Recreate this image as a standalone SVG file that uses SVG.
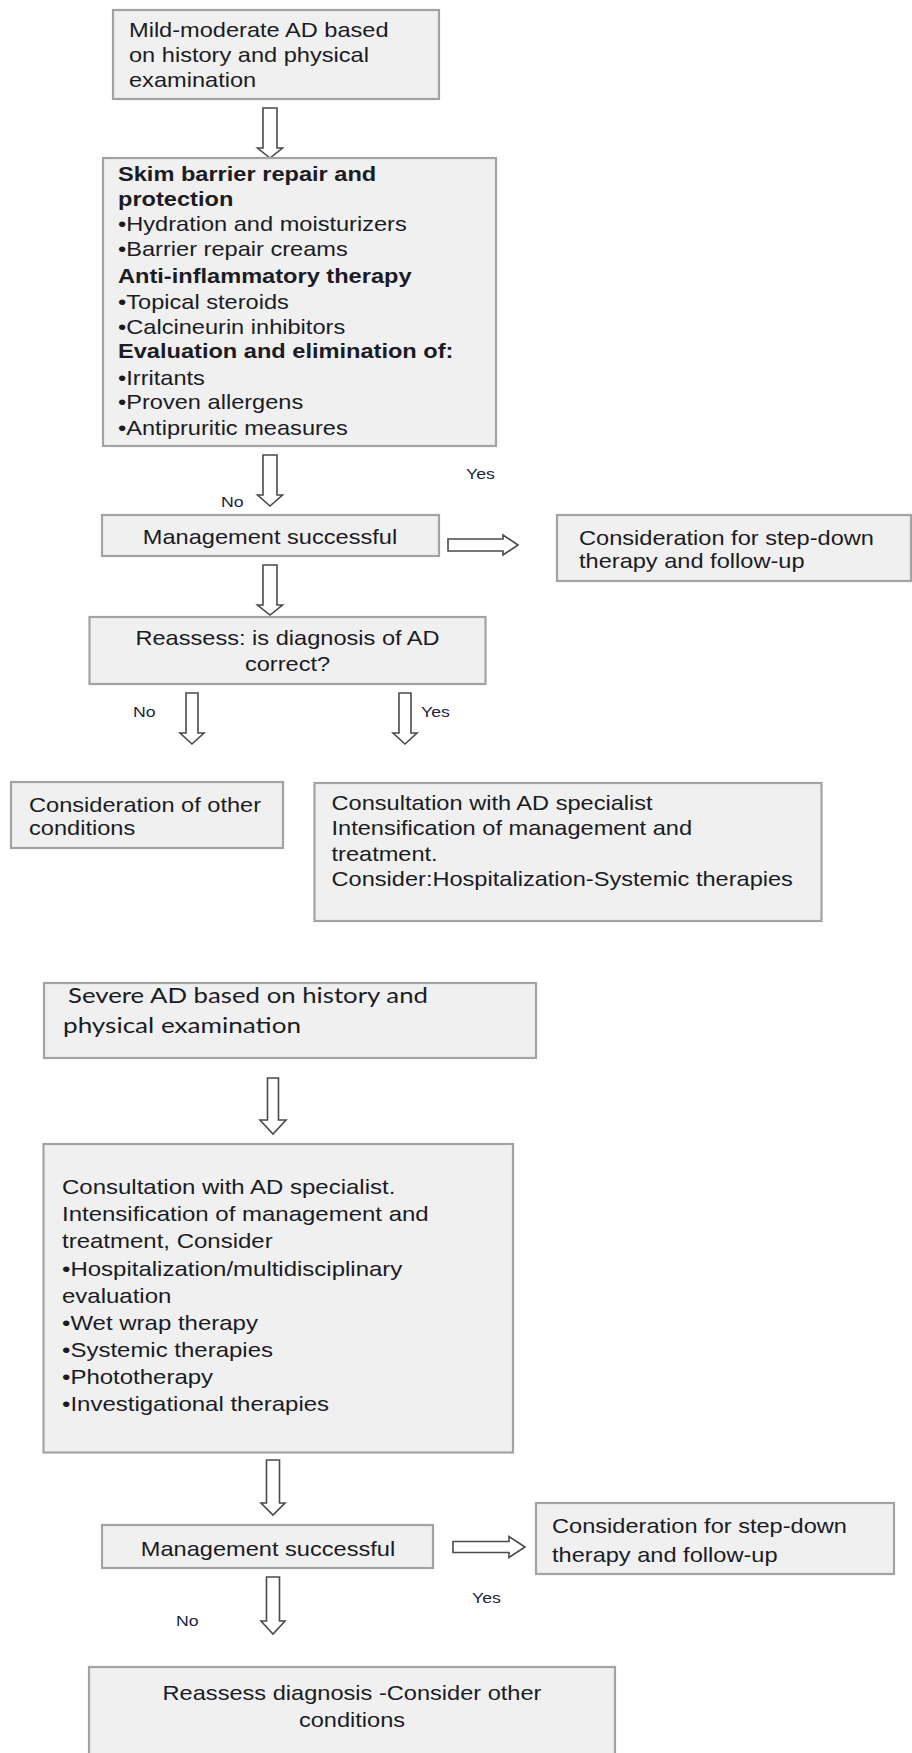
<svg xmlns="http://www.w3.org/2000/svg" width="912" height="1753" viewBox="0 0 912 1753">
<style>
.box{fill:#f0f0f0;stroke:#a3a3a3;stroke-width:2.2}
.t{font-family:"Liberation Sans",Arial,sans-serif;font-size:20px;fill:#1b1b24}
.b{font-weight:bold}
.lbl{font-family:"Liberation Sans",Arial,sans-serif;font-size:15px;fill:#1c2440}
.sv{font-family:Lato,"Liberation Sans",sans-serif;font-size:22px;fill:#1b1b24}
.arr{fill:#ffffff;stroke:#4a4a4a;stroke-width:1.6;stroke-linejoin:miter}
</style>
<rect width="912" height="1753" fill="#ffffff"/>
<g id="connectors">
<path class="arr" d="M263,108 L277,108 L277,148 L282.5,148 L270,158 L257.5,148 L263,148 Z"/>
<path class="arr" d="M263,455 L277,455 L277,495 L282.5,495 L270,506 L257.5,495 L263,495 Z"/>
<path class="arr" d="M263,565 L277,565 L277,605 L282.5,605 L270,615 L257.5,605 L263,605 Z"/>
<path class="arr" d="M186,693 L198,693 L198,733 L204,733 L192,744 L180,733 L186,733 Z"/>
<path class="arr" d="M399,693 L411,693 L411,733 L417,733 L405,744 L393,733 L399,733 Z"/>
<path class="arr" d="M448,539 L503,539 L503,535 L518,545 L503,555 L503,551 L448,551 Z"/>
<path class="arr" d="M267.5,1078 L278.5,1078 L278.5,1120 L286,1120 L273,1134 L260,1120 L267.5,1120 Z"/>
<path class="arr" d="M266.5,1460 L279.5,1460 L279.5,1503 L285,1503 L273,1515 L261,1503 L266.5,1503 Z"/>
<path class="arr" d="M453,1541.5 L509,1541.5 L509,1536.5 L525,1547 L509,1557.5 L509,1552.5 L453,1552.5 Z"/>
<path class="arr" d="M266.5,1577 L279.5,1577 L279.5,1621 L285,1621 L273,1634 L261,1621 L266.5,1621 Z"/>
<g transform="translate(221,0) scale(1.18,1)"><text class="lbl" x="0" y="507">No</text></g>
<g transform="translate(466,0) scale(1.18,1)"><text class="lbl" x="0" y="479">Yes</text></g>
<g transform="translate(133,0) scale(1.18,1)"><text class="lbl" x="0" y="717">No</text></g>
<g transform="translate(421,0) scale(1.18,1)"><text class="lbl" x="0" y="717">Yes</text></g>
<g transform="translate(472,0) scale(1.18,1)"><text class="lbl" x="0" y="1603">Yes</text></g>
<g transform="translate(176,0) scale(1.18,1)"><text class="lbl" x="0" y="1626">No</text></g>
</g>
<g id="mild">
<rect class="box" x="113" y="10" width="326" height="89"/>
<g transform="translate(129,0) scale(1.18,1)"><text class="t"><tspan x="0" y="37.5">Mild-moderate AD based</tspan><tspan x="0" y="62.5">on history and physical</tspan><tspan x="0" y="87.5">examination</tspan></text></g>
</g>
<g id="therapy">
<rect class="box" x="103" y="158" width="393" height="288"/>
<g transform="translate(118,0) scale(1.18,1)"><text class="t"><tspan class="b" x="0" y="181.5">Skim barrier repair and</tspan><tspan class="b" x="0" y="206">protection</tspan><tspan x="0" y="231">•Hydration and moisturizers</tspan><tspan x="0" y="256.5">•Barrier repair creams</tspan><tspan class="b" x="0" y="283">Anti-inflammatory therapy</tspan><tspan x="0" y="309.5">•Topical steroids</tspan><tspan x="0" y="334">•Calcineurin inhibitors</tspan><tspan class="b" x="0" y="358.5">Evaluation and elimination of:</tspan><tspan x="0" y="385">•Irritants</tspan><tspan x="0" y="409.5">•Proven allergens</tspan><tspan x="0" y="435">•Antipruritic measures</tspan></text></g>
</g>
<g id="mgmt1">
<rect class="box" x="102" y="515" width="337" height="41"/>
<g transform="translate(270,0) scale(1.18,1)"><text class="t" text-anchor="middle" x="0" y="544">Management successful</text></g>
</g>
<g id="stepdown1">
<rect class="box" x="557" y="515" width="354" height="66"/>
<g transform="translate(579,0) scale(1.18,1)"><text class="t"><tspan x="0" y="545">Consideration for step-down</tspan><tspan x="0" y="568">therapy and follow-up</tspan></text></g>
</g>
<g id="reassess1">
<rect class="box" x="89.5" y="617" width="396" height="67"/>
<g transform="translate(287.5,0) scale(1.18,1)"><text class="t" text-anchor="middle"><tspan x="0" y="645">Reassess: is diagnosis of AD</tspan><tspan x="0" y="671">correct?</tspan></text></g>
</g>
<g id="other1">
<rect class="box" x="11" y="782" width="272" height="66"/>
<g transform="translate(29,0) scale(1.18,1)"><text class="t"><tspan x="0" y="812">Consideration of other</tspan><tspan x="0" y="835">conditions</tspan></text></g>
</g>
<g id="consult1">
<rect class="box" x="314.5" y="783" width="507" height="138"/>
<g transform="translate(331.5,0) scale(1.18,1)"><text class="t"><tspan x="0" y="810">Consultation with AD specialist</tspan><tspan x="0" y="835">Intensification of management and</tspan><tspan x="0" y="861">treatment.</tspan><tspan x="0" y="886">Consider:Hospitalization-Systemic therapies</tspan></text></g>
</g>
<g id="severe">
<rect class="box" x="44" y="983" width="492" height="75"/>
<text class="sv" x="68" y="1003" textLength="360" lengthAdjust="spacingAndGlyphs">Severe AD based on history and</text>
<text class="sv" x="63" y="1033" textLength="238" lengthAdjust="spacingAndGlyphs">physical examination</text>
</g>
<g id="consult2">
<rect class="box" x="43.5" y="1144" width="469.5" height="308.5"/>
<g transform="translate(62,0) scale(1.2,1)"><text class="t"><tspan x="0" y="1194">Consultation with AD specialist.</tspan><tspan x="0" y="1221">Intensification of management and</tspan><tspan x="0" y="1248">treatment, Consider</tspan><tspan x="0" y="1276">•Hospitalization/multidisciplinary</tspan><tspan x="0" y="1303">evaluation</tspan><tspan x="0" y="1330">•Wet wrap therapy</tspan><tspan x="0" y="1357">•Systemic therapies</tspan><tspan x="0" y="1384">•Phototherapy</tspan><tspan x="0" y="1411">•Investigational therapies</tspan></text></g>
</g>
<g id="mgmt2">
<rect class="box" x="102" y="1525" width="331" height="43"/>
<g transform="translate(268,0) scale(1.18,1)"><text class="t" text-anchor="middle" x="0" y="1556">Management successful</text></g>
</g>
<g id="stepdown2">
<rect class="box" x="536" y="1503" width="358" height="71"/>
<g transform="translate(552,0) scale(1.18,1)"><text class="t"><tspan x="0" y="1533">Consideration for step-down</tspan><tspan x="0" y="1562">therapy and follow-up</tspan></text></g>
</g>
<g id="reassess2">
<rect class="box" x="89" y="1667" width="526" height="95"/>
<g transform="translate(352,0) scale(1.18,1)"><text class="t" text-anchor="middle"><tspan x="0" y="1700">Reassess diagnosis -Consider other</tspan><tspan x="0" y="1727">conditions</tspan></text></g>
</g>
</svg>
